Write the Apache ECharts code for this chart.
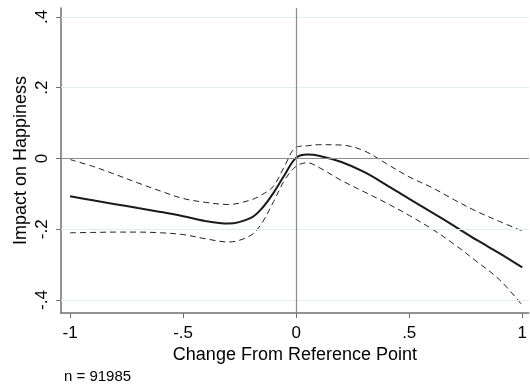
<!DOCTYPE html>
<html>
<head>
<meta charset="utf-8">
<title>Impact on Happiness</title>
<script src="https://cdn.jsdelivr.net/npm/echarts@6/dist/echarts.min.js"></script>
<style>
  html, body { margin: 0; padding: 0; background: #ffffff; }
  #chart { width: 530px; height: 389px; }
</style>
</head>
<body>
<div id="chart"></div>
<script>
// Change from reference point (x) and the estimated effect with its 95% band
const changeFromRef = [-1, -0.9, -0.8, -0.7, -0.6, -0.5, -0.4, -0.3, -0.2, -0.15, -0.1, -0.05,
  0, 0.05, 0.1, 0.2, 0.3, 0.4, 0.5, 0.6, 0.7, 0.8, 0.9, 1];
const fitted = [-0.107, -0.118, -0.129, -0.140, -0.151, -0.163, -0.177, -0.184, -0.168, -0.140, -0.097, -0.045,
  0.002, 0.011, 0.008, -0.010, -0.038, -0.075, -0.114, -0.152, -0.191, -0.231, -0.268, -0.308];
const upperCI = [-0.003, -0.022, -0.045, -0.069, -0.092, -0.113, -0.124, -0.130, -0.117, -0.102, -0.078, -0.020,
  0.032, 0.036, 0.039, 0.038, 0.022, -0.015, -0.052, -0.082, -0.117, -0.150, -0.178, -0.205];
const lowerCI = [-0.210, -0.209, -0.208, -0.208, -0.210, -0.215, -0.227, -0.236, -0.217, -0.181, -0.122, -0.060,
  -0.022, -0.012, -0.025, -0.062, -0.094, -0.126, -0.161, -0.199, -0.243, -0.292, -0.343, -0.415];

const xTicks = [-1, -0.5, 0, 0.5, 1];
const xTickLabels = ['-1', '-.5', '0', '.5', '1'];
const yTicks = [-0.4, -0.2, 0, 0.2, 0.4];
const yTickLabels = ['-.4', '-.2', '0', '.2', '.4'];
const sampleNote = 'n = 91985';

const FONT = '"Liberation Sans", Arial, Helvetica, sans-serif';

function pairs(ys) {
  return changeFromRef.map((x, i) => [x, ys[i]]);
}
function labelFor(ticks, labels) {
  return function (v) {
    let best = 0;
    for (let i = 1; i < ticks.length; i++) {
      if (Math.abs(ticks[i] - v) < Math.abs(ticks[best] - v)) best = i;
    }
    return labels[best];
  };
}

const chart = echarts.init(document.getElementById('chart'), null, { renderer: 'canvas' });

const gridLines = yTicks.filter(v => v !== 0).map(v => ({ yAxis: v }));

chart.setOption({
  animation: false,
  backgroundColor: '#ffffff',
  grid: { left: 61, right: 0, top: 8, bottom: 76, containLabel: false },
  xAxis: {
    type: 'value',
    min: -1.04,
    max: 1.029,
    name: 'Change From Reference Point',
    nameLocation: 'middle',
    nameGap: 33,
    nameMoveOverlap: false,
    nameTextStyle: { fontFamily: FONT, fontSize: 18, color: '#000' },
    axisLine: { show: true, onZero: false, lineStyle: { color: '#6f6f6f', width: 1.5 } },
    axisTick: { show: true, length: 5, customValues: xTicks, lineStyle: { color: '#6f6f6f', width: 1 } },
    axisLabel: {
      customValues: xTicks,
      formatter: labelFor(xTicks, xTickLabels),
      margin: 12,
      fontFamily: FONT, fontSize: 17, color: '#000'
    },
    splitLine: { show: false }
  },
  yAxis: {
    type: 'value',
    min: -0.4367,
    max: 0.4254,
    name: 'Impact on Happiness',
    nameLocation: 'middle',
    nameGap: 31,
    nameMoveOverlap: false,
    nameTextStyle: { fontFamily: FONT, fontSize: 18, color: '#000' },
    axisLine: { show: true, onZero: false, lineStyle: { color: '#6f6f6f', width: 1.5 } },
    axisTick: { show: true, length: 5, customValues: yTicks, lineStyle: { color: '#6f6f6f', width: 1 } },
    axisLabel: {
      customValues: yTicks,
      formatter: labelFor(yTicks, yTickLabels),
      rotate: 90,
      margin: 10,
      fontFamily: FONT, fontSize: 17, color: '#000'
    },
    splitLine: { show: false }
  },
  graphic: [{
    type: 'text',
    left: 64,
    top: 369,
    style: { text: sampleNote, font: '15px ' + FONT, fill: '#000' }
  }],
  series: [
    {
      // reference lines: light grid plus the zero cross-hairs
      type: 'line',
      data: [],
      silent: true,
      z: 1,
      markLine: {
        silent: true,
        symbol: ['none', 'none'],
        label: { show: false },
        animation: false,
        data: [
          ...gridLines.map(d => Object.assign({ lineStyle: { color: '#e3ecee', width: 1, type: 'solid' } }, d)),
          { yAxis: 0, lineStyle: { color: '#8c8c8c', width: 1.2, type: 'solid' } },
          { xAxis: 0, lineStyle: { color: '#8c8c8c', width: 1.2, type: 'solid' } }
        ]
      }
    },
    {
      name: 'upper',
      type: 'line',
      data: pairs(upperCI),
      smooth: 0.35,
      showSymbol: false,
      z: 3,
      lineStyle: { color: '#222', width: 1, type: [6, 4] }
    },
    {
      name: 'lower',
      type: 'line',
      data: pairs(lowerCI),
      smooth: 0.35,
      showSymbol: false,
      z: 3,
      lineStyle: { color: '#222', width: 1, type: [6, 4] }
    },
    {
      name: 'fitted',
      type: 'line',
      data: pairs(fitted),
      smooth: 0.35,
      showSymbol: false,
      z: 4,
      lineStyle: { color: '#1a1a1a', width: 2 }
    }
  ]
});
</script>
</body>
</html>
